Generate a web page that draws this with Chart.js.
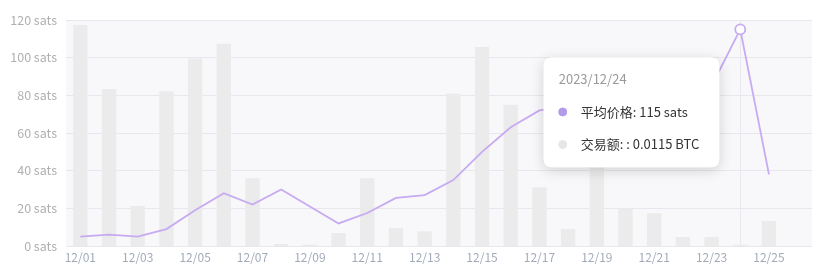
<!DOCTYPE html>
<html>
<head>
<meta charset="utf-8">
<script src="https://cdn.jsdelivr.net/npm/chart.js@4/dist/chart.umd.min.js"></script>
<style>
html,body{margin:0;padding:0;background:#fff;}
#wrap{width:823px;height:275px;position:relative;}
</style>
</head>
<body>
<div id="wrap"><canvas id="c" width="823" height="275"></canvas></div>
<script>
const categories = ['12/01','12/02','12/03','12/04','12/05','12/06','12/07','12/08','12/09','12/10','12/11','12/12','12/13','12/14','12/15','12/16','12/17','12/18','12/19','12/20','12/21','12/22','12/23','12/24','12/25','12/26'];
const avgPrice = [5,6,5,9,19,28,22,30,21,12,17.5,25.5,27,35,50,63,72,74,76,79,81,83,85,115,38,null];
const volumeBTC = [1.956,1.39,0.354,1.37,1.66,1.79,0.60,0.018,0.012,0.115,0.60,0.16,0.13,1.35,1.76,1.25,0.52,0.15,0.85,0.33,0.29,0.08,0.08,0.0115,0.22,null];
const yTicks = [0,20,40,60,80,100,120];
const yearPrefix = '2023/';
const activeIndex = 23;

const lineColor = '#c6aaf2';
const dotColor = '#b39be9';
const barColor = '#ebebeb';
const font = "'Noto Sans CJK SC','Noto Sans',sans-serif";

const bgPlugin = {
  id: 'bg',
  beforeDraw(chart) {
    const {ctx, chartArea: a} = chart;
    ctx.save();
    ctx.fillStyle = '#f8f8fa';
    ctx.fillRect(a.left, a.top, a.right - a.left, a.bottom - a.top);
    ctx.restore();
  },
  beforeDatasetsDraw(chart) {
    const {ctx, chartArea: a} = chart;
    const x = chart.scales.x.getPixelForValue(activeIndex);
    ctx.save();
    ctx.strokeStyle = '#e8e8ee';
    ctx.lineWidth = 1;
    ctx.beginPath();
    ctx.moveTo(Math.round(x) + 0.5, a.top);
    ctx.lineTo(Math.round(x) + 0.5, a.bottom);
    ctx.stroke();
    ctx.restore();
  },
  beforeTooltipDraw(chart, args) {
    const t = args.tooltip;
    if (!t || !t.opacity) return;
    const {ctx} = chart;
    ctx.save();
    ctx.shadowColor = 'rgba(0,0,0,0.16)';
    ctx.shadowBlur = 14;
    ctx.shadowOffsetY = 3;
    ctx.fillStyle = '#fff';
    ctx.beginPath();
    ctx.roundRect(t.x, t.y, t.width, t.height, 8);
    ctx.fill();
    ctx.restore();
  }
};

Chart.Tooltip.positioners.custom = function(items) {
  if (!items.length) return false;
  const el = items[0].element;
  return {x: el.x, y: el.y + 83};
};

const chart = new Chart(document.getElementById('c'), {
  data: {
    labels: categories,
    datasets: [
      {
        type: 'line',
        label: '平均价格',
        data: avgPrice,
        yAxisID: 'y',
        borderColor: lineColor,
        backgroundColor: lineColor,
        borderWidth: 1.8,
        tension: 0,
        pointRadius: 0,
        pointHoverRadius: 5,
        pointHoverBackgroundColor: '#fff',
        pointHoverBorderColor: lineColor,
        pointHoverBorderWidth: 1.8,
        order: 0
      },
      {
        type: 'bar',
        label: '交易额',
        data: volumeBTC,
        yAxisID: 'y1',
        backgroundColor: barColor,
        hoverBackgroundColor: barColor,
        borderWidth: 0,
        barPercentage: 0.5,
        categoryPercentage: 1,
        order: 1
      }
    ]
  },
  options: {
    responsive: false,
    animation: false,
    layout: {padding: {top: 20, right: 11, left: 0, bottom: 0}},
    interaction: {mode: 'index', intersect: false},
    events: [],
    scales: {
      x: {
        grid: {display: false, drawTicks: false},
        border: {display: false},
        ticks: {
          color: '#a3abbb',
          font: {family: font, size: 12},
          padding: 4,
          maxRotation: 0,
          autoSkip: false,
          callback: function(v, i) { return i % 2 === 0 ? categories[i] : ''; }
        },
        afterFit(s) { s.height = 29; }
      },
      y: {
        min: 0, max: 120,
        afterBuildTicks(s) { s.ticks = yTicks.map(v => ({value: v})); },
        grid: {color: '#e7e7ee', drawTicks: false, lineWidth: 1},
        border: {display: false},
        ticks: {
          color: '#b0b0b0',
          font: {family: font, size: 12.5},
          padding: 9,
          callback: v => v + ' sats'
        },
        afterFit(s) { s.width = 66; }
      },
      y1: {
        display: false,
        min: 0, max: 2
      }
    },
    plugins: {
      legend: {display: false},
      tooltip: {
        enabled: true,
        position: 'custom',
        xAlign: 'right',
        yAlign: 'center',
        caretSize: 0,
        caretPadding: 21,
        backgroundColor: '#ffffff',
        cornerRadius: 8,
        titleColor: '#9a9a9a',
        bodyColor: '#333333',
        titleFont: {family: font, size: 13, weight: 'normal'},
        bodyFont: {family: font, size: 13, weight: 'normal'},
        titleMarginBottom: 17,
        bodySpacing: 17,
        padding: {top: 14, bottom: 15, left: 15, right: 20},
        usePointStyle: true,
        boxWidth: 8,
        boxHeight: 8,
        boxPadding: 12,
        callbacks: {
          title: items => yearPrefix + items[0].label,
          label: ctx => ctx.datasetIndex === 0
            ? '平均价格: ' + ctx.raw + ' sats'
            : '交易额: : ' + ctx.raw + ' BTC',
          labelColor: ctx => ctx.datasetIndex === 0
            ? {borderColor: dotColor, backgroundColor: dotColor}
            : {borderColor: '#e6e6e6', backgroundColor: '#e6e6e6'},
          labelPointStyle: () => ({pointStyle: 'circle', rotation: 0})
        }
      }
    }
  },
  plugins: [bgPlugin]
});

const act = [{datasetIndex: 0, index: activeIndex}, {datasetIndex: 1, index: activeIndex}];
chart.setActiveElements([{datasetIndex: 0, index: activeIndex}]);
chart.tooltip.setActiveElements(act, {x: 740, y: 30});
chart.update();
</script>
</body>
</html>
